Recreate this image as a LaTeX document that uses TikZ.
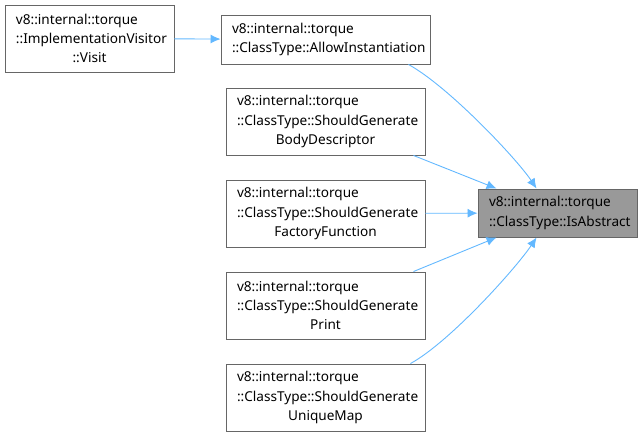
\documentclass[tikz,border=0pt]{standalone}
\usepackage{fontspec}
\setmainfont{Noto Sans}
\usetikzlibrary{arrows.meta,positioning}
\definecolor{edgeBlue}{HTML}{63B8FF}
\definecolor{boxGray}{HTML}{666666}
\definecolor{hlGray}{HTML}{999999}
\newcommand{\lastline}[1]{\makebox[\linewidth][c]{#1}}

\begin{document}
\begin{tikzpicture}[x=1pt,y=-1pt,fnbox/.style={draw=boxGray,line width=0.9pt,fill=white,inner sep=0pt,align=left,minimum height=67pt,font=\fontsize{13.6}{19.3}\selectfont},hlbox/.style={fnbox,fill=hlGray,minimum height=48pt},flow/.style={-{Latex[length=10pt,width=9pt]},draw=edgeBlue,line width=0.9pt}]
\useasboundingbox (0,0) rectangle (643,437);
\node[fnbox,text width=147pt,minimum width=169pt] (visit) at (89.5,38.5) {v8::internal::torque\\::ImplementationVisitor\\\lastline{::Visit}};
\node[fnbox,text width=187pt,minimum width=209pt,minimum height=49pt] (allow) at (325.5,39.5) {v8::internal::torque\\::ClassType::AllowInstantiation};
\node[fnbox,text width=177pt,minimum width=199pt] (body) at (325.5,121.5) {v8::internal::torque\\::ClassType::ShouldGenerate\\\lastline{BodyDescriptor}};
\node[fnbox,text width=177pt,minimum width=199pt] (factory) at (325.5,213.5) {v8::internal::torque\\::ClassType::ShouldGenerate\\\lastline{FactoryFunction}};
\node[fnbox,text width=177pt,minimum width=199pt] (print) at (325.5,305.5) {v8::internal::torque\\::ClassType::ShouldGenerate\\\lastline{Print}};
\node[fnbox,text width=177pt,minimum width=199pt] (umap) at (325.5,397.5) {v8::internal::torque\\::ClassType::ShouldGenerate\\\lastline{UniqueMap}};
\node[hlbox,text width=137pt,minimum width=159pt] (abstract) at (557.5,213) {v8::internal::torque\\::ClassType::IsAbstract};
\draw[flow] (visit) -- (allow);
\draw[flow] ([xshift=-22pt]allow.south east) .. controls +(40,22) and +(-20,-30) .. ([xshift=59pt]abstract.north west);
\draw[flow] ([xshift=-12pt]body.south east) -- ([xshift=19pt]abstract.north west);
\draw[flow] (factory) -- (abstract);
\draw[flow] ([xshift=-12pt]print.north east) -- ([xshift=19pt]abstract.south west);
\draw[flow] ([xshift=-15pt]umap.north east) .. controls +(40,-22) and +(-20,30) .. ([xshift=59pt]abstract.south west);
\end{tikzpicture}
\end{document}
